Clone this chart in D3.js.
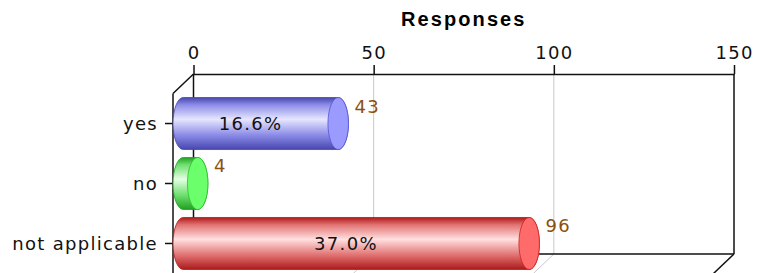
<!DOCTYPE html>
<html>
<head>
<meta charset="utf-8">
<script src="https://cdn.jsdelivr.net/npm/d3@7"></script>
<style>
  body { margin: 0; background: #fff; }
  svg { display: block; }
  .lbl { font-family: "DejaVu Sans", sans-serif; font-size: 18px; letter-spacing: 1.3px; fill: #111; }
</style>
</head>
<body>
<div id="chart"></div>
<script>
// chart data
const categories = ["yes", "no", "not applicable"];
const values = [43, 4, 96];
const percentLabels = ["16.6%", null, "37.0%"];
const xTicks = [0, 50, 100, 150];
const chartTitle = "Responses";

const width = 759, height = 273;
// 3D offset of the front plane relative to the back wall
const depthX = -20.5, depthY = 19.5;

const svg = d3.select("#chart")
  .append("svg")
  .attr("width", width)
  .attr("height", height);

// scales: x measured on the back wall, categories on the front plane
const xBack = d3.scaleLinear().domain([0, 150]).range([193.5, 734]);
const xFront = v => xBack(v) + depthX;
const xMid = v => xBack(v) + depthX / 2;
const backTop = 74, backBottom = 254;
const yBand = d3.scaleBand()
  .domain(categories)
  .range([backTop + depthY, backBottom + depthY])
  .paddingInner(0.133)
  .paddingOuter(0.067);

const palette = {
  yes: { edge: "#4646ae", mid: "#8c8ce8", light: "#e6e6ff", cap: "#9a9aff" },
  no: { edge: "#22a022", mid: "#6ee06e", light: "#e4ffe4", cap: "#6cff6c" },
  "not applicable": { edge: "#ac1a1a", mid: "#e27272", light: "#ffe0e0", cap: "#ff6b6b" }
};

// gradients for the cylinder bodies
const defs = svg.append("defs");
categories.forEach((c, i) => {
  const p = palette[c];
  const g = defs.append("linearGradient")
    .attr("id", "grad" + i)
    .attr("x1", 0).attr("y1", 0).attr("x2", 0).attr("y2", 1);
  g.append("stop").attr("offset", "0%").attr("stop-color", p.edge);
  g.append("stop").attr("offset", "14%").attr("stop-color", p.mid);
  g.append("stop").attr("offset", "42%").attr("stop-color", p.light);
  g.append("stop").attr("offset", "72%").attr("stop-color", p.mid);
  g.append("stop").attr("offset", "100%").attr("stop-color", p.edge);
});

// title
svg.append("text")
  .attr("x", (xBack(0) + xBack(150)) / 2)
  .attr("y", 25.5)
  .attr("text-anchor", "middle")
  .style("font-family", "'Liberation Sans', Arial, sans-serif")
  .style("font-weight", "bold")
  .style("font-size", "20px")
  .style("letter-spacing", "2.1px")
  .text(chartTitle);

// gridlines on the back wall and their floor projections
const grid = svg.append("g");
xTicks.filter(t => t > 0 && t < 150).forEach(t => {
  grid.append("line")
    .attr("x1", xBack(t)).attr("x2", xBack(t))
    .attr("y1", backTop).attr("y2", backBottom)
    .attr("stroke", "#c8c8c8");
  grid.append("line")
    .attr("x1", xBack(t)).attr("x2", xFront(t))
    .attr("y1", backBottom).attr("y2", backBottom + depthY)
    .attr("stroke", "#c8c8c8");
});

// back wall outline
const wall = svg.append("g").attr("stroke", "#111").attr("stroke-width", 1.5).attr("fill", "none");
wall.append("line").attr("x1", xBack(0)).attr("x2", xBack(0)).attr("y1", backTop).attr("y2", backBottom);
wall.append("line").attr("x1", xBack(150)).attr("x2", xBack(150)).attr("y1", backTop).attr("y2", backBottom);
wall.append("line").attr("x1", xBack(0)).attr("x2", xBack(150)).attr("y1", backBottom).attr("y2", backBottom);
wall.append("line").attr("x1", xBack(0)).attr("x2", xFront(0)).attr("y1", backTop).attr("y2", backTop + depthY);
wall.append("line").attr("x1", xBack(150)).attr("x2", xFront(150)).attr("y1", backBottom).attr("y2", backBottom + depthY);

// top value axis
const xAxis = d3.axisTop(xBack).tickValues(xTicks).tickSize(9).tickSizeOuter(0).tickPadding(6);
const gx = svg.append("g")
  .attr("transform", `translate(0,${backTop})`)
  .call(xAxis);
gx.selectAll("path, line").attr("stroke", "#111").attr("stroke-width", 1.5);
gx.selectAll("text").attr("class", "lbl").attr("fill", null);

// front category axis
const yAxis = d3.axisLeft(yBand).tickSize(8).tickSizeOuter(0).tickPadding(7);
const gy = svg.append("g")
  .attr("transform", `translate(${xFront(0)},0)`)
  .call(yAxis);
gy.select(".domain").attr("d", `M0,${backTop + depthY}V${backBottom + depthY}`);
gy.selectAll("path, line").attr("stroke", "#111").attr("stroke-width", 1.5);
gy.selectAll("text").attr("class", "lbl").attr("fill", null).attr("dy", "0.35em");

// cylinders
const rx = -depthX / 2;
const bars = svg.append("g");
categories.forEach((c, i) => {
  const v = values[i];
  const top = yBand(c), bh = yBand.bandwidth(), bot = top + bh, ry = bh / 2;
  const x0 = xMid(0), x1 = xMid(v);
  bars.append("path")
    .attr("d", `M${x0},${top}L${x1},${top}A${rx},${ry} 0 0 1 ${x1},${bot}L${x0},${bot}A${rx},${ry} 0 0 1 ${x0},${top}Z`)
    .attr("fill", `url(#grad${i})`)
    .attr("stroke", palette[c].edge)
    .attr("stroke-width", 0.8);
  bars.append("ellipse")
    .attr("cx", x1).attr("cy", top + ry)
    .attr("rx", rx).attr("ry", ry)
    .attr("fill", palette[c].cap)
    .attr("stroke", d3.color(palette[c].edge).brighter(0.5))
    .attr("stroke-width", 0.8);

  if (percentLabels[i]) {
    bars.append("text")
      .attr("class", "lbl")
      .attr("x", (xFront(0) + xFront(v)) / 2)
      .attr("y", top + ry)
      .attr("dy", "0.35em")
      .attr("text-anchor", "middle")
      .text(percentLabels[i]);
  }
  bars.append("text")
    .attr("class", "lbl")
    .attr("x", xBack(v) + 6)
    .attr("y", top + 15)
    .style("fill", "#8a520e")
    .text(v);
});
</script>
</body>
</html>
